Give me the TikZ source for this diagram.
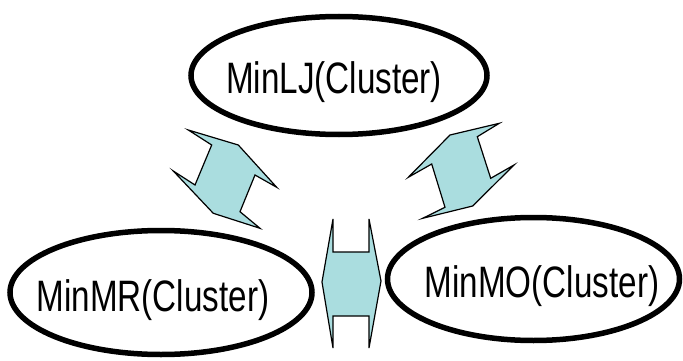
\documentclass[tikz,border=0pt]{standalone}
\usepackage{fontspec}
\setmainfont{Liberation Sans}
\usetikzlibrary{shapes.geometric}
\definecolor{arrowcyan}{RGB}{170,221,223}
\tikzset{
  cluster/.style={draw=black, line width=5.5pt, ellipse, inner sep=0pt, fill=none},
  label/.style={inner sep=0pt, anchor=base, font=\fontsize{44}{52}\selectfont},
  dblarrow/.style={draw=black, line width=1.2pt, fill=arrowcyan, line join=miter}
}
\newcommand{\narrow}[1]{\scalebox{0.755}[1]{#1}}
\begin{document}
\begin{tikzpicture}[x=1pt, y=-1pt]
  \useasboundingbox (0,0) rectangle (683,361);

  % cluster ellipses
  \node[cluster, minimum width=296pt, minimum height=118pt] (lj) at (339,75.5) {};
  \node[cluster, minimum width=302pt, minimum height=124pt] (mr) at (161,292.5) {};
  \node[cluster, minimum width=292pt, minimum height=123pt] (mo) at (533.5,279) {};

  % cluster names
  \node[label] (ljtxt) at (334,93) {\narrow{MinLJ(Cluster)}};
  \node[label] (mrtxt) at (153,311) {\narrow{MinMR(Cluster)}};
  \node[label] (motxt) at (542,297) {\narrow{MinMO(Cluster)}};

  % double block arrow between MinLJ and MinMR
  \draw[dblarrow] (188.3,130) -- (238.3,145) -- (276.7,187.3) -- (255,175)
    -- (240,211.7) -- (260,228.3) -- (213.3,213.3) -- (173.3,171)
    -- (195,185) -- (211.7,145) -- cycle;

  % double block arrow between MinLJ and MinMO
  \draw[dblarrow] (499.3,123.3) -- (450,135) -- (408.3,177.3) -- (431.7,164)
    -- (445,207.3) -- (422.7,218.3) -- (472.7,206) -- (514,165)
    -- (490.7,178.3) -- (477.3,136.7) -- cycle;

  % double block arrow between MinMR and MinMO
  \draw[dblarrow] (333,219) -- (333,252) -- (369,252) -- (369,219)
    -- (381,281) -- (369,348) -- (369,316) -- (333,316)
    -- (333,348) -- (322,282) -- cycle;
\end{tikzpicture}
\end{document}
